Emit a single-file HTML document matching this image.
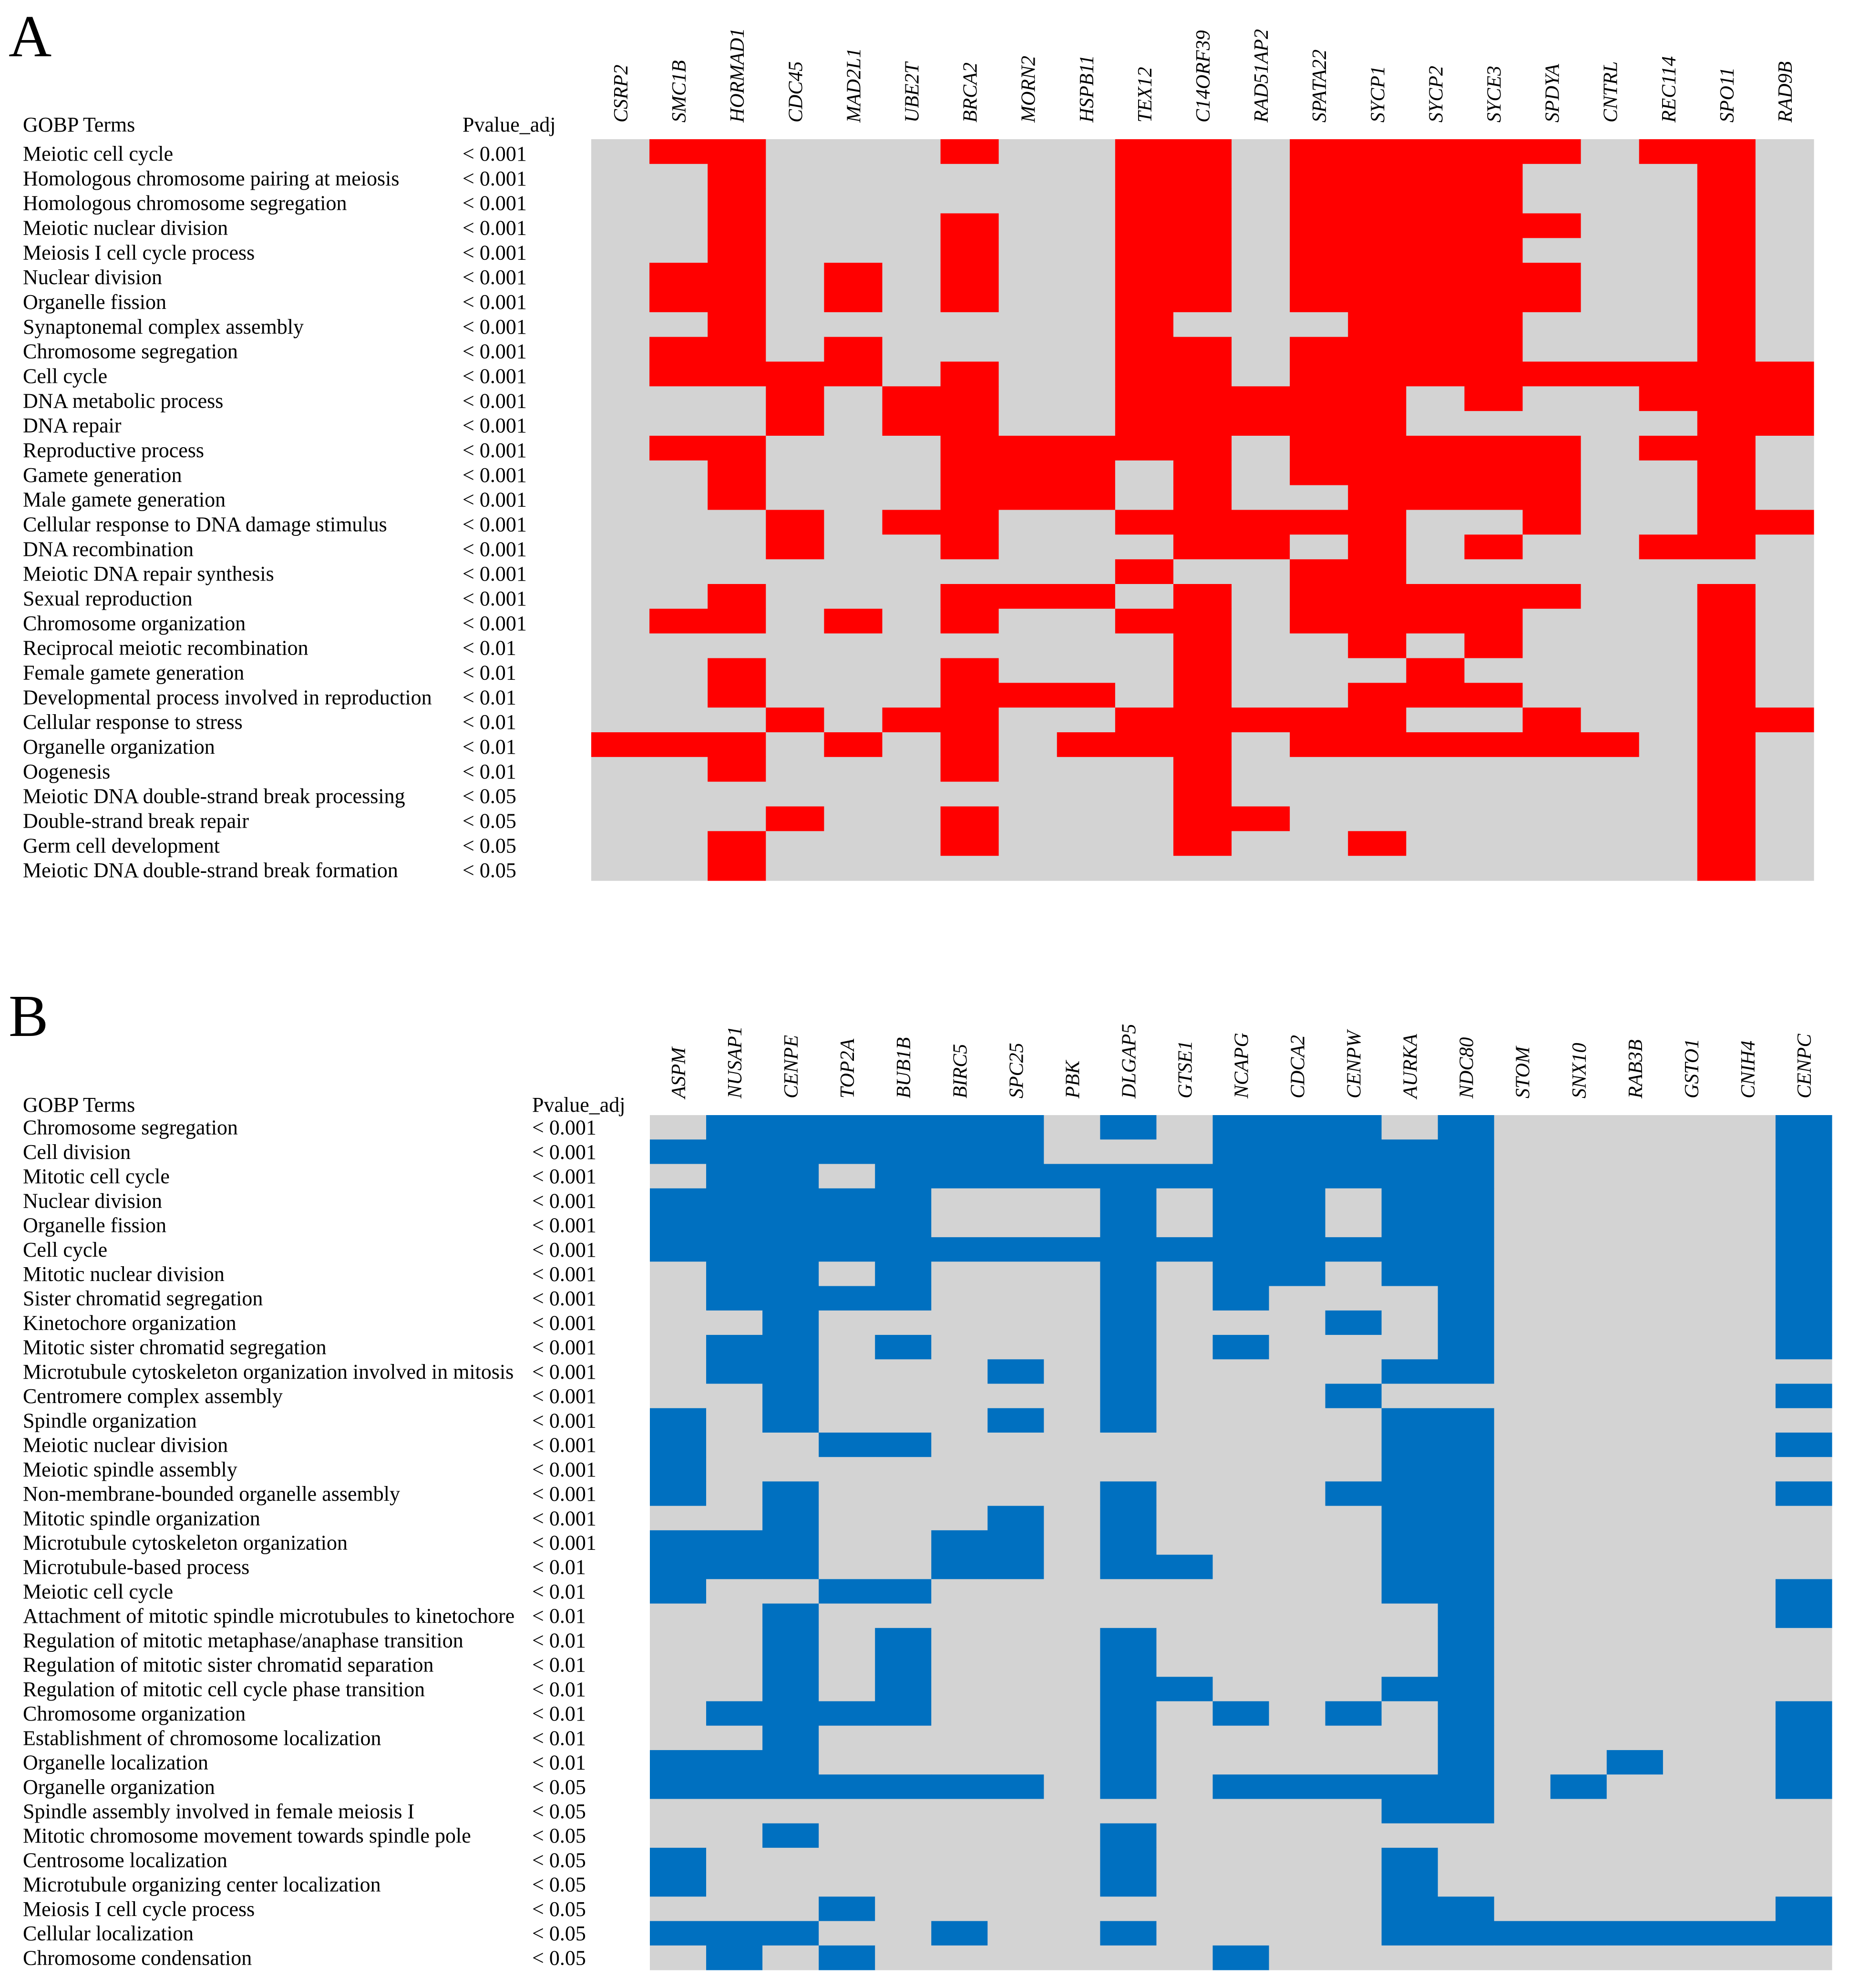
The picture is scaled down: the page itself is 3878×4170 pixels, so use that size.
<!DOCTYPE html>
<html><head><meta charset="utf-8"><style>
html,body{margin:0;padding:0;background:#fff;}
svg{display:block;}
text{font-family:"Liberation Serif",serif;fill:#000;}
.lab{font-size:44px;}
.gene{font-size:42px;font-style:italic;}
.panel{font-size:125px;}
</style></head><body>
<svg id="fig" width="3878" height="4170" viewBox="0 0 3878 4170" xmlns="http://www.w3.org/2000/svg">
<rect width="3878" height="4170" fill="#fff"/>
<text class="panel" x="18" y="118">A</text>
<text class="panel" x="18" y="2173">B</text>
<g id="panelA"></g>
<g id="panelB"></g>
</svg>
<script>
const genesA = ["CSRP2","SMC1B","HORMAD1","CDC45","MAD2L1","UBE2T","BRCA2","MORN2","HSPB11","TEX12","C14ORF39","RAD51AP2","SPATA22","SYCP1","SYCP2","SYCE3","SPDYA","CNTRL","REC114","SPO11","RAD9B"];
const termsA = ["Meiotic cell cycle","Homologous chromosome pairing at meiosis","Homologous chromosome segregation","Meiotic nuclear division","Meiosis I cell cycle process","Nuclear division","Organelle fission","Synaptonemal complex assembly","Chromosome segregation","Cell cycle","DNA metabolic process","DNA repair","Reproductive process","Gamete generation","Male gamete generation","Cellular response to DNA damage stimulus","DNA recombination","Meiotic DNA repair synthesis","Sexual reproduction","Chromosome organization","Reciprocal meiotic recombination","Female gamete generation","Developmental process involved in reproduction","Cellular response to stress","Organelle organization","Oogenesis","Meiotic DNA double-strand break processing","Double-strand break repair","Germ cell development","Meiotic DNA double-strand break formation"];
const pvalsA = ["< 0.001","< 0.001","< 0.001","< 0.001","< 0.001","< 0.001","< 0.001","< 0.001","< 0.001","< 0.001","< 0.001","< 0.001","< 0.001","< 0.001","< 0.001","< 0.001","< 0.001","< 0.001","< 0.001","< 0.001","< 0.01","< 0.01","< 0.01","< 0.01","< 0.01","< 0.01","< 0.05","< 0.05","< 0.05","< 0.05"];
const hitsA = [
[1,2,6,9,10,12,13,14,15,16,18,19],
[2,9,10,12,13,14,15,19],
[2,9,10,12,13,14,15,19],
[2,6,9,10,12,13,14,15,16,19],
[2,6,9,10,12,13,14,15,19],
[1,2,4,6,9,10,12,13,14,15,16,19],
[1,2,4,6,9,10,12,13,14,15,16,19],
[2,9,13,14,15,19],
[1,2,4,9,10,12,13,14,15,19],
[1,2,3,4,6,9,10,12,13,14,15,16,17,18,19,20],
[3,5,6,9,10,11,12,13,15,18,19,20],
[3,5,6,9,10,11,12,13,19,20],
[1,2,6,7,8,9,10,12,13,14,15,16,18,19],
[2,6,7,8,10,12,13,14,15,16,19],
[2,6,7,8,10,13,14,15,16,19],
[3,5,6,9,10,11,12,13,16,19,20],
[3,6,10,11,13,15,18,19],
[9,12,13],
[2,6,7,8,10,12,13,14,15,16,19],
[1,2,4,6,9,10,12,13,14,15,19],
[10,13,15,19],
[2,6,10,14,19],
[2,6,7,8,10,13,14,15,19],
[3,5,6,9,10,11,12,13,16,19,20],
[0,1,2,4,6,8,9,10,12,13,14,15,16,17,19],
[2,6,10,19],
[10,19],
[3,6,10,11,19],
[2,6,10,13,19],
[2,19]
];
const genesB = ["ASPM","NUSAP1","CENPE","TOP2A","BUB1B","BIRC5","SPC25","PBK","DLGAP5","GTSE1","NCAPG","CDCA2","CENPW","AURKA","NDC80","STOM","SNX10","RAB3B","GSTO1","CNIH4","CENPC"];
const termsB = ["Chromosome segregation","Cell division","Mitotic cell cycle","Nuclear division","Organelle fission","Cell cycle","Mitotic nuclear division","Sister chromatid segregation","Kinetochore organization","Mitotic sister chromatid segregation","Microtubule cytoskeleton organization involved in mitosis","Centromere complex assembly","Spindle organization","Meiotic nuclear division","Meiotic spindle assembly","Non-membrane-bounded organelle assembly","Mitotic spindle organization","Microtubule cytoskeleton organization","Microtubule-based process","Meiotic cell cycle","Attachment of mitotic spindle microtubules to kinetochore","Regulation of mitotic metaphase/anaphase transition","Regulation of mitotic sister chromatid separation","Regulation of mitotic cell cycle phase transition","Chromosome organization","Establishment of chromosome localization","Organelle localization","Organelle organization","Spindle assembly involved in female meiosis I","Mitotic chromosome movement towards spindle pole","Centrosome localization","Microtubule organizing center localization","Meiosis I cell cycle process","Cellular localization","Chromosome condensation"];
const pvalsB = ["< 0.001","< 0.001","< 0.001","< 0.001","< 0.001","< 0.001","< 0.001","< 0.001","< 0.001","< 0.001","< 0.001","< 0.001","< 0.001","< 0.001","< 0.001","< 0.001","< 0.001","< 0.001","< 0.01","< 0.01","< 0.01","< 0.01","< 0.01","< 0.01","< 0.01","< 0.01","< 0.01","< 0.05","< 0.05","< 0.05","< 0.05","< 0.05","< 0.05","< 0.05","< 0.05"];
const hitsB = [
[1,2,3,4,5,6,8,10,11,12,14,20],
[0,1,2,3,4,5,6,10,11,12,13,14,20],
[1,2,4,5,6,7,8,9,10,11,12,13,14,20],
[0,1,2,3,4,8,10,11,13,14,20],
[0,1,2,3,4,8,10,11,13,14,20],
[0,1,2,3,4,5,6,7,8,9,10,11,12,13,14,20],
[1,2,4,8,10,11,13,14,20],
[1,2,3,4,8,10,14,20],
[2,8,12,14,20],
[1,2,4,8,10,14,20],
[1,2,6,8,13,14],
[2,8,12,20],
[0,2,6,8,13,14],
[0,3,4,13,14,20],
[0,13,14],
[0,2,8,12,13,14,20],
[2,6,8,13,14],
[0,1,2,5,6,8,13,14],
[0,1,2,5,6,8,9,13,14],
[0,3,4,13,14,20],
[2,14,20],
[2,4,8,14],
[2,4,8,14],
[2,4,8,9,13,14],
[1,2,3,4,8,10,12,14,20],
[2,8,14,20],
[0,1,2,8,14,17,20],
[0,1,2,3,4,5,6,8,10,11,12,13,14,16,20],
[13,14],
[2,8],
[0,8,13],
[0,8,13],
[3,13,14,20],
[0,1,2,5,8,13,14,15,16,17,18,19,20],
[1,3,10]
];

const NS = "http://www.w3.org/2000/svg";
function mk(tag, attrs, parent){
  const e = document.createElementNS(NS, tag);
  for (const k in attrs) e.setAttribute(k, attrs[k]);
  parent.appendChild(e);
  return e;
}
function drawPanel(g, cfg, genes, terms, pvals, hits){
  const cw = (cfg.x1 - cfg.x0) / genes.length;
  const rh = (cfg.y1 - cfg.y0) / terms.length;
  const xScale = c => cfg.x0 + c * cw;
  const yScale = r => cfg.y0 + r * rh;
  const h1 = mk("text", {class:"lab", x:cfg.termX, y:cfg.headY}, g);
  h1.textContent = "GOBP Terms";
  
  
  const h2 = mk("text", {class:"lab", x:cfg.pX, y:cfg.headY}, g);
  h2.textContent = "Pvalue_adj";
  
  
  genes.forEach((gn, c) => {
    const tx = xScale(c) + cw / 2 + 15;
    const ty = cfg.y0 - 35;
    const t = mk("text", {class:"gene", x:tx, y:ty, transform:"rotate(-90 " + tx + " " + ty + ")"}, g);
    t.textContent = gn;
    
    
  });
  terms.forEach((tm, r) => {
    const by = yScale(r) + rh / 2 + cfg.base;
    const t = mk("text", {class:"lab", x:cfg.termX, y:by}, g);
    t.textContent = tm;
    
    
    const p = mk("text", {class:"lab", x:cfg.pX, y:by}, g);
    p.textContent = pvals[r];
    
    
    for (let c = 0; c < genes.length; c++) {
      const on = hits[r].indexOf(c) >= 0;
      const rect = mk("rect", {x:xScale(c), y:yScale(r), width:cw + 0.6, height:rh + 0.6, fill: on ? cfg.color : "#D3D3D3"}, g);
      
      
    }
  });
}
drawPanel(document.getElementById("panelA"),
  {x0:1240, x1:3804, y0:292, y1:1847, termX:48, pX:970, headY:276, base:19, color:"#FF0000"},
  genesA, termsA, pvalsA, hitsA);
drawPanel(document.getElementById("panelB"),
  {x0:1363, x1:3842, y0:2339, y1:4132, termX:48, pX:1116, headY:2332, base:15, color:"#0070C0"},
  genesB, termsB, pvalsB, hitsB);
</script>
</body></html>
